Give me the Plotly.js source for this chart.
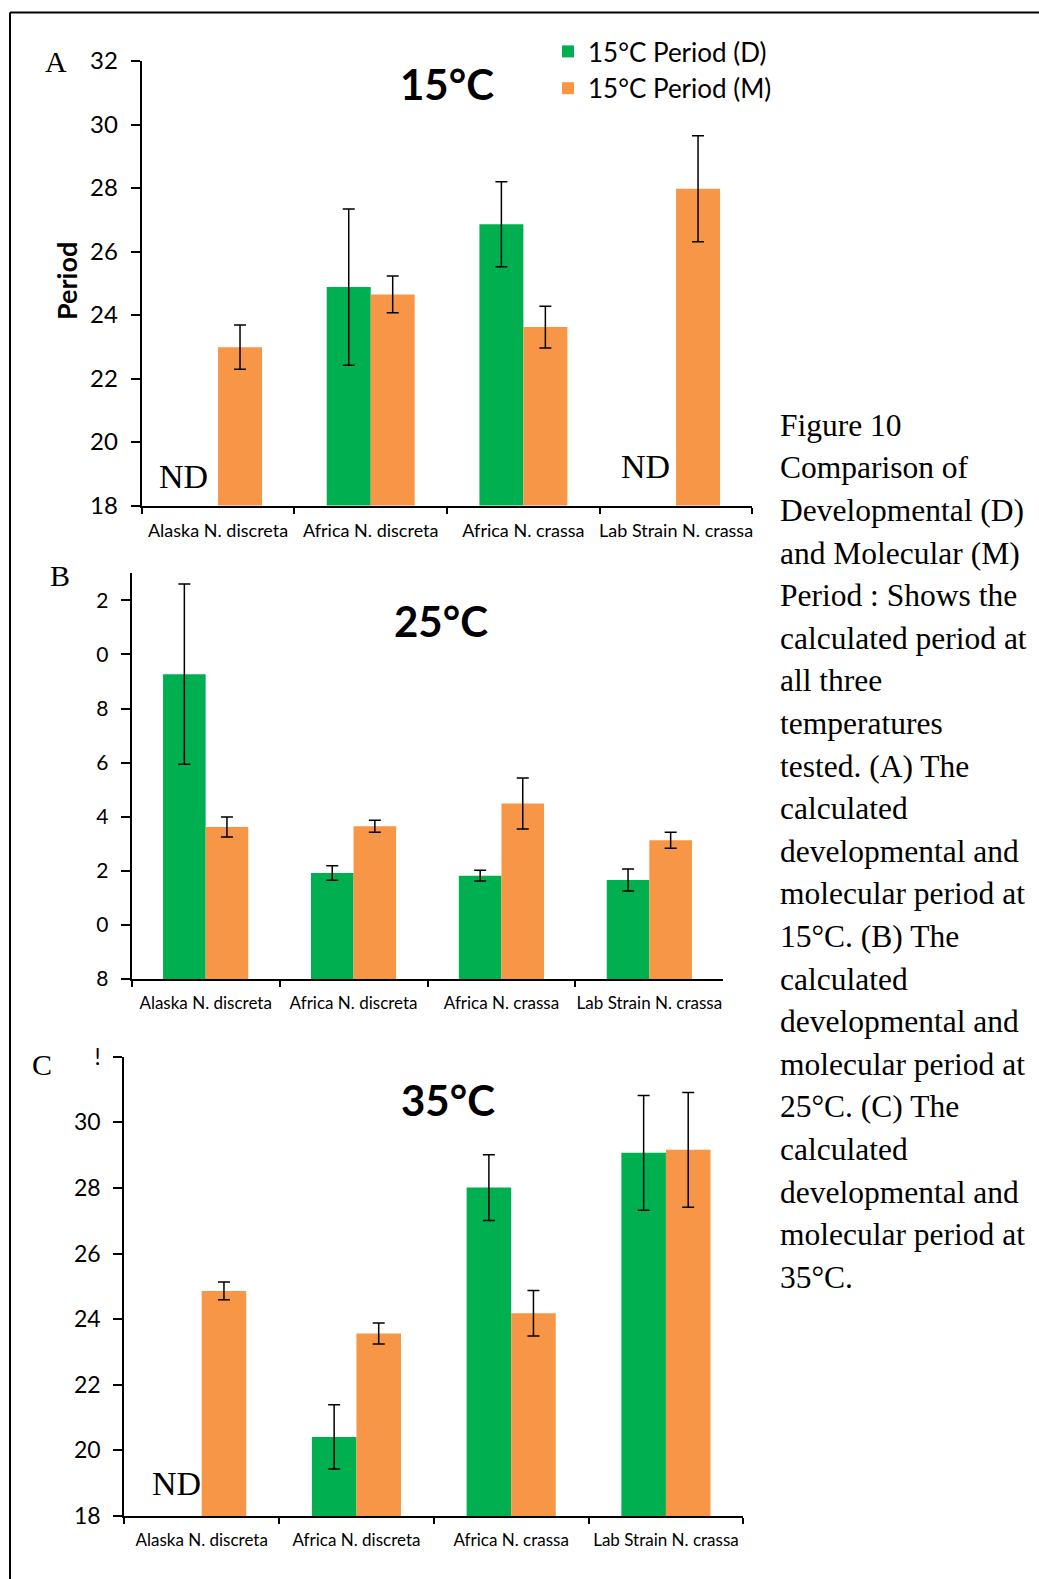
<!DOCTYPE html>
<html>
<head>
<meta charset="utf-8">
<script src="https://cdn.plot.ly/plotly-3.0.1.min.js"></script>
<style>html,body{margin:0;padding:0;background:#fff;}#chart{width:1039px;height:1579px;}</style>
</head>
<body>
<div id="chart"></div>
<script>
// ---- data ----
const categories = ['Alaska N. discreta', 'Africa N. discreta', 'Africa N. crassa', 'Lab Strain N. crassa'];
const seriesNames = ['15°C Period (D)', '15°C Period (M)'];

const periodD15 = [null, 24.88, 26.86, null];
const errD15    = [null, 2.46, 1.34, null];
const periodM15 = [22.99, 24.65, 23.62, 27.98];
const errM15    = [0.70, 0.58, 0.66, 1.67];

const periodD25 = [29.27, 21.92, 21.82, 21.66];
const errD25    = [3.33, 0.27, 0.20, 0.41];
const periodM25 = [23.62, 23.65, 24.49, 23.13];
const errM25    = [0.37, 0.22, 0.94, 0.30];

const periodD35 = [null, 20.41, 28.01, 29.07];
const errD35    = [null, 0.98, 1.00, 1.75];
const periodM35 = [24.86, 23.56, 24.18, 29.16];
const errM35    = [0.27, 0.32, 0.69, 1.75];

const tickVals = [18, 20, 22, 24, 26, 28, 30, 32];
const tickTextA = ['18', '20', '22', '24', '26', '28', '30', '32'];
const tickTextB = ['8', '0', '2', '4', '6', '8', '0', '2'];
const tickTextC = ['18', '20', '22', '24', '26', '28', '30', '!'];

const panelTitles = ['15°C', '25°C', '35°C'];
const captionLines = ['Figure 10', 'Comparison of', 'Developmental (D)', 'and Molecular (M)',
  'Period : Shows the', 'calculated period at', 'all three', 'temperatures', 'tested. (A) The',
  'calculated', 'developmental and', 'molecular period at', '15°C. (B) The', 'calculated',
  'developmental and', 'molecular period at', '25°C. (C) The', 'calculated', 'developmental and',
  'molecular period at', '35°C.'];

// ---- layout helpers ----
const W = 1039, H = 1579;
const px = x => x / W;
const py = y => 1 - y / H;
const GREEN = '#00B050', ORANGE = '#F79646';
const sans = 'Lato, "Open Sans", sans-serif';
const serif = '"Liberation Serif", "DejaVu Serif", serif';

function errObj(arr) {
  return {type: 'data', array: arr, visible: true, color: '#000', thickness: 1.5, width: 6};
}
function mkBar(y, err, color, name, xa, ya, show) {
  return {type: 'bar', x: categories, y: y, error_y: errObj(err), name: name,
    marker: {color: color, line: {width: 0}}, xaxis: xa, yaxis: ya, showlegend: show,
    hoverinfo: 'skip'};
}

const traces = [
  mkBar(periodD15, errD15, GREEN, seriesNames[0], 'x', 'y', true),
  mkBar(periodM15, errM15, ORANGE, seriesNames[1], 'x', 'y', true),
  mkBar(periodD25, errD25, GREEN, seriesNames[0], 'x2', 'y2', false),
  mkBar(periodM25, errM25, ORANGE, seriesNames[1], 'x2', 'y2', false),
  mkBar(periodD35, errD35, GREEN, seriesNames[0], 'x3', 'y3', false),
  mkBar(periodM35, errM35, ORANGE, seriesNames[1], 'x3', 'y3', false)
];

function xAxis(l, r, anchor, fs) {
  return {domain: [px(l), px(r)], anchor: anchor, type: 'category', showline: true, linewidth: 2,
    linecolor: '#000', ticks: 'outside', tickson: 'boundaries', ticklen: 6, tickwidth: 2,
    tickcolor: '#000', tickangle: 0, tickfont: {family: sans, size: fs, color: '#000'}, showgrid: false,
    zeroline: false, fixedrange: true, ticklabelstandoff: 8};
}
function yAxis(top, bottom, range, ttext, anchor, fs) {
  return {domain: [py(bottom), py(top)], anchor: anchor, range: range, tickmode: 'array',
    tickvals: tickVals, ticktext: ttext, showline: true, linewidth: 2, linecolor: '#000',
    ticks: 'outside', ticklen: 9, tickwidth: 2, tickcolor: '#000',
    tickfont: {family: sans, size: fs, color: '#000'}, showgrid: false, zeroline: false,
    ticklabelstandoff: 8, fixedrange: true};
}

const annotations = [];
function ann(text, x, y, font, extra) {
  annotations.push(Object.assign({text: text, x: px(x), y: py(y), xref: 'paper', yref: 'paper',
    showarrow: false, font: font, xanchor: 'center', yanchor: 'middle'}, extra || {}));
}
// panel titles
ann('<b>' + panelTitles[0] + '</b>', 447, 84, {family: sans, size: 42, color: '#000'});
ann('<b>' + panelTitles[1] + '</b>', 441, 621, {family: sans, size: 42, color: '#000'});
ann('<b>' + panelTitles[2] + '</b>', 448, 1100, {family: sans, size: 42, color: '#000'});
// panel letters
ann('A', 56, 62, {family: serif, size: 30, color: '#000'});
ann('B', 60, 576, {family: serif, size: 30, color: '#000'});
ann('C', 42, 1064, {family: serif, size: 30, color: '#000'});
// ND
ann('ND', 183, 476, {family: serif, size: 34, color: '#000'});
ann('ND', 645, 467, {family: serif, size: 34, color: '#000'});
ann('ND', 176, 1483, {family: serif, size: 34, color: '#000'});
// y title
ann('<b>Period</b>', 67, 281, {family: sans, size: 27, color: '#000'}, {textangle: -90});
// caption
captionLines.forEach((t, i) => {
  ann(t, 778, 436 + i * 42.6 - 10.7, {family: serif, size: 31.5, color: '#000'}, {xanchor: 'left'});
});

const layout = {
  width: W, height: H, margin: {l: 0, r: 0, t: 0, b: 0},
  paper_bgcolor: '#fff', plot_bgcolor: 'rgba(0,0,0,0)',
  barmode: 'group', bargap: 0.424, bargroupgap: 0,
  xaxis: xAxis(141.7, 752.4, 'y', 18),
  yaxis: yAxis(61, 505.6, [18, 32], tickTextA, 'x', 24),
  xaxis2: xAxis(131.7, 723.3, 'y2', 17),
  yaxis2: yAxis(573.3, 979, [18, 33], tickTextB, 'x2', 21),
  xaxis3: xAxis(124.3, 743.3, 'y3', 17),
  yaxis3: yAxis(1056.7, 1516, [18, 32], tickTextC, 'x3', 23),
  showlegend: true,
  legend: {x: px(548), y: py(28), xanchor: 'left', yanchor: 'top', bgcolor: 'rgba(0,0,0,0)',
    font: {family: sans, size: 26, color: '#000'}, tracegroupgap: 0, itemclick: false},
  annotations: annotations,
  shapes: [
    {type: 'line', xref: 'paper', yref: 'paper', x0: px(10), x1: px(1045), y0: py(12.5), y1: py(12.5), line: {color: '#000', width: 2}},
    {type: 'line', xref: 'paper', yref: 'paper', x0: px(10), x1: px(10), y0: py(12.5), y1: py(1590), line: {color: '#000', width: 2}}
  ]
};

Plotly.newPlot('chart', traces, layout, {displayModeBar: false, staticPlot: true});
</script>
</body>
</html>
